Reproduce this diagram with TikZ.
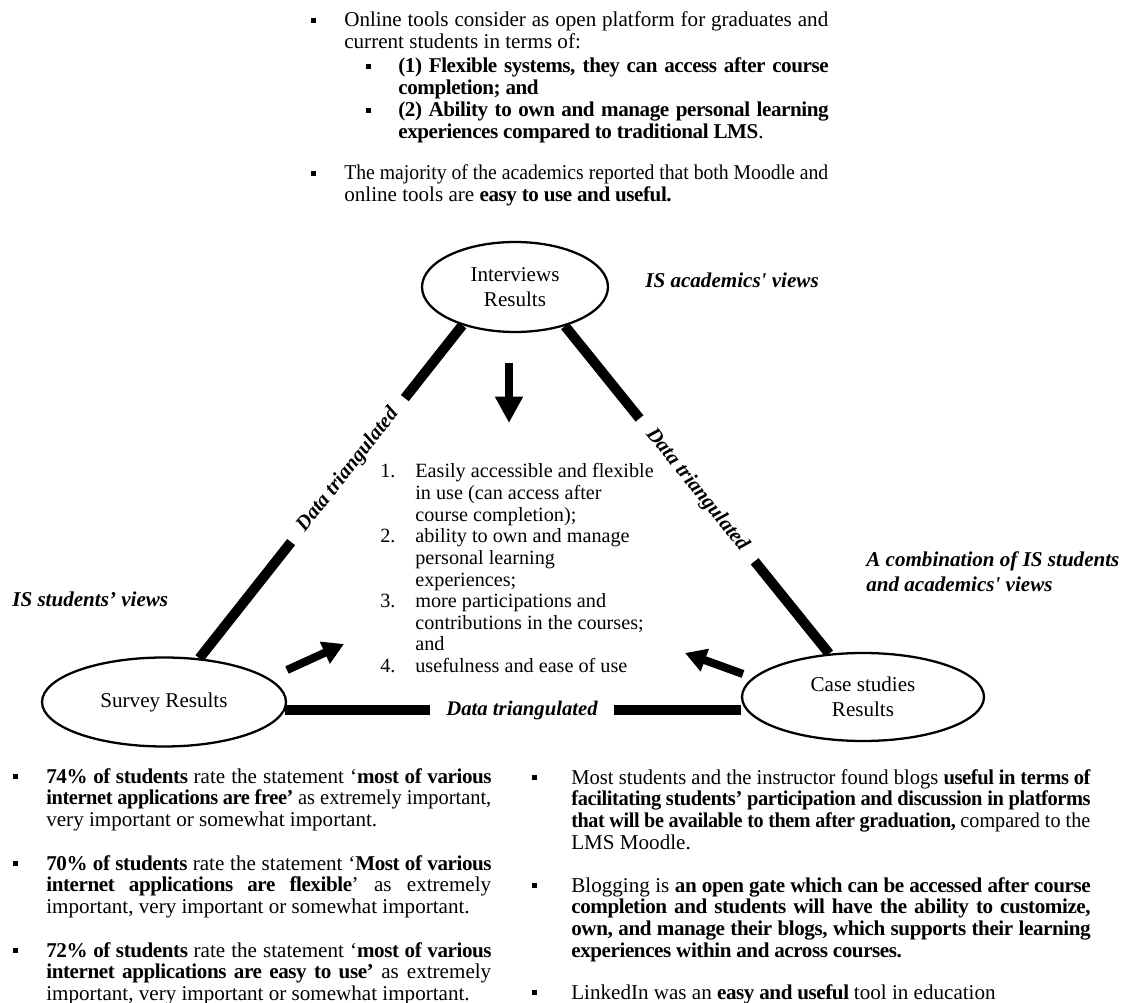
\documentclass[tikz,border=0pt]{standalone}
\usepackage{fontspec}
\usepackage{graphicx}
\setmainfont{Liberation Serif}[BoldFeatures={LetterSpace=-2}]
\newfontfamily\labfont{Liberation Serif}[Ligatures=TeXOff]
\usetikzlibrary{shapes.geometric,arrows.meta,backgrounds}

\newlength\colw
\newsavebox\linebox
% one justified line of width \colw (squeezed if too long)
\newcommand{\jl}[1]{\sbox\linebox{#1}%
  \ifdim\wd\linebox>\colw\resizebox{\colw}{\height}{\usebox\linebox}%
  \else\makebox[\colw][s]{#1}\fi}
\newcommand{\bul}{\rule[2.3pt]{2.6pt}{2.8pt}}
% bulleted block: #1 hanging indent, #2 column width, #3 rows
\newcommand{\bpar}[3]{\setlength\colw{#2}%
  \begin{tabular}[t]{@{}l@{}l@{}}\makebox[#1][l]{\bul}&#3\end{tabular}}

\begin{document}
\begin{tikzpicture}[x=0.02cm,y=-0.02cm,
  para/.style={anchor=base west, inner sep=0pt,
    font=\fontsize{12}{12.35}\selectfont},
  ell/.style={ellipse, draw, line width=1.3pt, fill=white, inner sep=0pt,
    align=center, font=\fontsize{12}{14.5}\selectfont},
  tri/.style={line width=5.7pt},
  gaplab/.style={fill=white, inner xsep=9pt, inner ysep=1pt, sloped,
    font=\fontsize{11.8}{13}\selectfont\bfseries\itshape},
  lab/.style={anchor=base west, inner sep=0pt,
    font=\labfont\fontsize{12}{14.7}\selectfont\bfseries\itshape},
  bigarrow/.style={line width=5pt, -{Triangle[width=15pt,length=15pt]}},
  midarrow/.style={line width=4.6pt, -{Triangle[width=13pt,length=12pt]}}]
\useasboundingbox (0,0) rectangle (1130,1003);

% ---- top findings ----
\node[para] (top1) at (311,27)
  {\bpar{0.66cm}{9.68cm}{\jl{Online tools consider as open platform for graduates and}\\
   & current students in terms of:}};
\node[para] (sub1) at (366,73)
  {\bpar{0.64cm}{8.6cm}{\jl{\textbf{(1) Flexible systems, they can access after course}}\\
   & \textbf{completion; and}}};
\node[para] (sub2) at (366,117)
  {\bpar{0.64cm}{8.6cm}{\jl{\textbf{(2) Ability to own and manage personal learning}}\\
   & \textbf{experiences compared to traditional LMS}.}};
\node[para] (top2) at (311,180)
  {\bpar{0.66cm}{9.68cm}{\jl{The majority of the academics reported that both Moodle and}\\
   & online tools are \textbf{easy to use and useful.}}};

% ---- the three sources ----
\node[ell, minimum width=3.72cm, minimum height=1.8cm] (interviews) at (515,287) {Interviews\\Results};
\node[ell, minimum width=4.88cm, minimum height=1.78cm] (survey) at (164,702) {Survey Results};
\node[ell, minimum width=4.84cm, minimum height=1.76cm] (case) at (863,697) {Case studies\\Results};

% ---- triangulation lines (behind the ellipses) ----
\begin{scope}[on background layer]
\draw[tri] (survey.51) -- node[gaplab, pos=0.565] {Data triangulated} (interviews.216);
\draw[tri] (interviews.-38) -- node[gaplab, pos=0.5] {Data triangulated} (case.128.5);
\draw[tri] (survey.-4.8) -- node[gaplab, pos=0.52] {Data triangulated} (survey.-4.8 -| case.west);
\end{scope}

% ---- view labels ----
\node[lab] (acad) at (645,288) {IS academics' views};
\node[lab] (stud) at (12,606) {IS students’ views};
\node[lab, align=left] (comb) at (866,592) {A combination of IS students\\and academics' views};

% ---- combined findings ----
\node[anchor=base west, inner sep=0pt, font=\fontsize{11.5}{12.3}\selectfont] (findings) at (380,478)
  {\begin{tabular}[t]{@{}p{0.7cm}@{}l@{}}
   1. & Easily accessible and flexible\\
      & in use (can access after\\
      & course completion);\\
   2. & ability to own and manage\\
      & personal learning\\
      & experiences;\\
   3. & more participations and\\
      & contributions in the courses;\\
      & and\\
   4. & usefulness and ease of use
   \end{tabular}};

% ---- arrows into the findings ----
\coordinate (dtail) at (509,363);
\coordinate (dtip) at (509,423);
\coordinate (stail) at (287,670);
\coordinate (stip) at (344,644);
\coordinate (ctail) at (743,674);
\coordinate (ctip) at (685,653);
\draw[bigarrow] (dtail) -- (dtip);
\draw[midarrow] (stail) -- (stip);
\draw[midarrow] (ctail) -- (ctip);

% ---- survey findings ----
\node[para] (s1) at (13,783)
  {\bpar{0.66cm}{8.9cm}{\jl{\textbf{74\% of students} rate the statement ‘\textbf{most of various}}\\
   & \jl{\textbf{internet applications are free’} as extremely important,}\\
   & very important or somewhat important.}};
\node[para] (s2) at (13,870)
  {\bpar{0.66cm}{8.9cm}{\jl{\textbf{70\% of students} rate the statement ‘\textbf{Most of various}}\\
   & \jl{\textbf{internet applications are flexible}’ as extremely}\\
   & important, very important or somewhat important.}};
\node[para] (s3) at (13,957)
  {\bpar{0.66cm}{8.9cm}{\jl{\textbf{72\% of students} rate the statement ‘\textbf{most of various}}\\
   & \jl{\textbf{internet applications are easy to use’} as extremely}\\
   & important, very important or somewhat important.}};

% ---- case study findings ----
\node[para] (c1) at (532,784)
  {\bpar{0.78cm}{10.38cm}{\jl{Most students and the instructor found blogs \textbf{useful in terms of}}\\
   & \jl{\textbf{facilitating students’ participation and discussion in platforms}}\\
   & \jl{\textbf{that will be available to them after graduation,} compared to the}\\
   & LMS Moodle.}};
\node[para] (c2) at (532,892)
  {\bpar{0.78cm}{10.38cm}{\jl{Blogging is \textbf{an open gate which can be accessed after course}}\\
   & \jl{\textbf{completion and students will have the ability to customize,}}\\
   & \jl{\textbf{own, and manage their blogs, which supports their learning}}\\
   & \textbf{experiences within and across courses.}}};
\node[para] (c3) at (532,999)
  {\bpar{0.78cm}{10.38cm}{LinkedIn was an \textbf{easy and useful} tool in education}};
\end{tikzpicture}
\end{document}
